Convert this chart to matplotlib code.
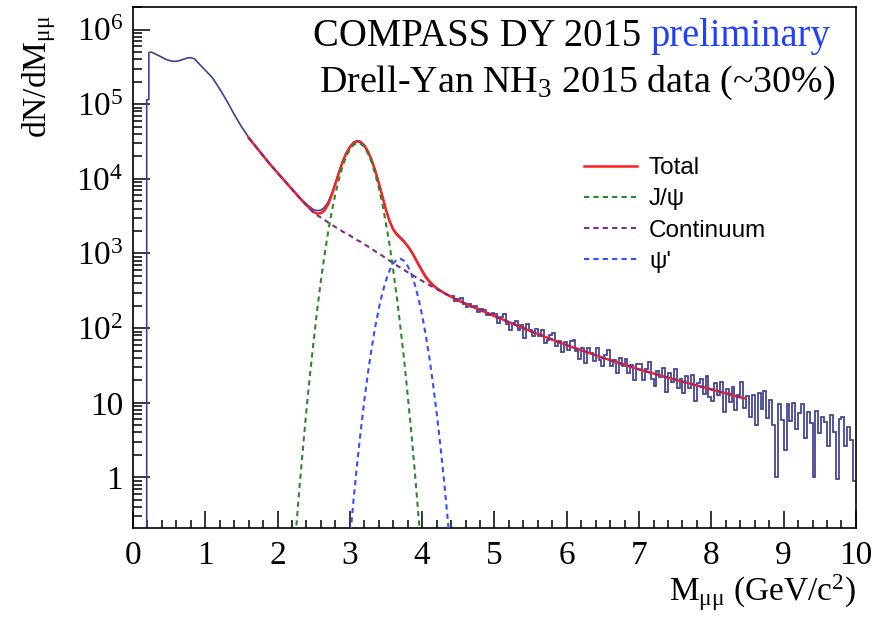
import numpy as np
import matplotlib
matplotlib.use('Agg')
import matplotlib.pyplot as plt
from matplotlib.ticker import FixedLocator, LogLocator, MultipleLocator, NullFormatter

plt.rcParams['font.family'] = 'Liberation Serif'
plt.rcParams['mathtext.fontset'] = 'custom'
plt.rcParams['mathtext.rm'] = 'Liberation Serif'
plt.rcParams['mathtext.it'] = 'Liberation Serif:italic'
plt.rcParams['mathtext.bf'] = 'Liberation Serif:bold'

# data, smooth low-mass part (first bin 0.19-0.22)
low_mass = [0.19, 0.22, 0.22, 0.25, 0.30, 0.35, 0.40, 0.45, 0.50, 0.55, 0.60, 0.65, 0.70,
            0.75, 0.80, 0.85, 0.90, 0.95, 1.00, 1.10, 1.20, 1.30, 1.40, 1.50, 1.60, 1.70,
            1.80, 1.90, 2.00, 2.10, 2.20, 2.30, 2.40, 2.50, 2.55, 2.60, 2.65, 2.70, 2.75,
            2.80, 2.85, 2.90, 2.95, 3.00, 3.05, 3.10, 3.15, 3.20, 3.25, 3.30, 3.35, 3.40,
            3.45, 3.50, 3.55, 3.60, 3.65, 3.70, 3.75, 3.80, 3.85, 3.90, 3.95, 4.00, 4.05,
            4.10, 4.15, 4.20, 4.30, 4.40]
low_counts = [1.15e5, 1.15e5, 4.9e5, 5.0e5, 4.75e5, 4.5e5, 4.25e5, 4.0e5, 3.85e5, 3.75e5,
              3.75e5, 3.85e5, 4.0e5, 4.15e5, 4.2e5, 4.05e5, 3.6e5, 3.2e5, 2.85e5, 2.25e5,
              1.6e5, 1.1e5, 7.3e4, 5.0e4, 3.6e4, 2.7e4, 2.05e4, 1.56e4, 1.21e4, 9.4e3,
              7.3e3, 5.7e3, 4.55e3, 3.85e3, 3.75e3, 3.8e3, 4.15e3, 4.9e3, 6.4e3, 8.8e3,
              1.25e4, 1.73e4, 2.25e4, 2.72e4, 3.08e4, 3.25e4, 3.16e4, 2.83e4, 2.35e4,
              1.82e4, 1.31e4, 8.9e3, 5.9e3, 3.9e3, 2.75e3, 2.15e3, 1.85e3, 1.65e3, 1.47e3,
              1.28e3, 1.09e3, 900, 730, 600, 500, 430, 385, 345, 300, 265]

# data, high-mass tail: bins of 0.04 GeV from 4.40 to 10.00
tail_start = 4.40
bin_width = 0.04
tail_counts = [268, 233, 243, 250, 213, 194, 213, 191, 200, 164, 178, 176, 152, 151, 159,
               156, 116, 139, 155, 112, 94, 117, 125, 93, 109, 74, 112, 93, 79, 98,
               78, 95, 63, 70, 80, 86, 58, 67, 48, 65,
               51, 67, 70, 49, 38, 55, 34, 54, 47, 36, 54, 37, 31, 44, 51,
               31, 37, 25, 40, 31, 39, 25, 32, 20, 33,
               33, 20, 28.5, 35, 21, 17, 27, 22, 29, 14, 25, 19, 28.5, 16, 20.5,
               13.7, 22.6, 16, 23.4, 10.4, 18.6, 20.6, 13.2, 22.8, 11.9,
               10.5, 18.3, 12.9, 19.2, 7.5, 15.3, 10.3, 16.4, 8.1, 12.7, 18.9, 8.6, 12.5, 6.5,
               12.6, 5.1, 13.4, 8.2, 14.4, 6.3, 10.9, 5.1, 1.0, 9.5, 5.8,
               2.3, 9.5, 5.7, 10, 4.4, 7.3, 9.6, 3.4, 7.6, 5.3, 1.0, 7.8, 3.9, 6.5, 5.5,
               2.6, 6.8, 4.1, 0.95, 6.0, 6.5, 2.6, 4.7, 3.2, 0.9]

# fit: total and continuum
fit_mass = [1.60, 1.70, 1.80, 1.90, 2.00, 2.10, 2.20, 2.30, 2.40, 2.50, 2.55, 2.60, 2.65,
            2.70, 2.75, 2.80, 2.85, 2.90, 2.95, 3.00, 3.05, 3.10, 3.15, 3.20, 3.25, 3.30,
            3.35, 3.40, 3.45, 3.50, 3.55, 3.60, 3.65, 3.70, 3.75, 3.80, 3.85, 3.90, 3.95,
            4.00, 4.05, 4.10, 4.15, 4.20, 4.30, 4.40, 4.50, 5.00, 5.50, 6.00, 6.50, 7.00,
            7.50, 8.00, 8.45]
total_fit = [35500, 26900, 20400, 15500, 12000, 9330, 7240, 5620, 4430, 3580, 3420, 3460,
             3780, 4550, 6060, 8570, 12100, 16800, 21800, 26400, 30100, 31700, 30900, 27800,
             23200, 17900, 12900, 8780, 5830, 3800, 2690, 2080, 1780, 1600, 1430, 1250, 1060,
             870, 705, 578, 480, 416, 373, 342, 296, 263, 234, 145, 91, 59, 40, 28, 20.4,
             15.1, 11.5]
continuum_fit = [35500, 26900, 20400, 15500, 12000, 9330, 7240, 5620, 4420, 3510, 3240, 3020,
                 2820, 2600, 2430, 2260, 2110, 1970, 1840, 1740, 1620, 1510, 1430, 1330, 1240,
                 1160, 1070, 1000, 930, 860, 800, 740, 690, 645, 600, 560, 525, 490, 457,
                 430, 400, 376, 355, 335, 295, 263, 234, 145, 91, 59, 40, 28, 20.4, 15.1, 11.5]

# J/psi component, 2.25 - 4.00 GeV in 0.05 steps
jpsi_mass = np.round(np.arange(2.25, 4.001, 0.05), 2)
jpsi_fit = [0.17, 0.68, 2.4, 8.1, 24.5, 69, 182, 436, 955, 1950, 3630, 6310, 10000, 14800,
            20000, 24700, 28500, 30200, 29500, 26500, 21900, 16700, 11700, 7600, 4600, 2500,
            1290, 600, 257, 102, 38, 12.6, 4.0, 1.15, 0.30, 0.072]

# psi' component, 3.00 - 4.40 GeV in 0.05 steps
psip_mass = np.round(np.arange(3.00, 4.401, 0.05), 2)
psip_fit = [0.14, 0.49, 1.5, 4.2, 10.7, 25, 53, 103, 182, 295, 437, 596, 737, 830, 850,
            795, 680, 535, 380, 248, 148, 80, 40, 18, 7.4, 2.8, 0.96, 0.30, 0.087]

ytick_vals = [1, 10, 1e2, 1e3, 1e4, 1e5, 1e6]
ytick_labels = ['1', '10', r'$\mathrm{10^{2}}$', r'$\mathrm{10^{3}}$', r'$\mathrm{10^{4}}$',
                r'$\mathrm{10^{5}}$', r'$\mathrm{10^{6}}$']

data_col = '#3d418f'
y_lo, y_hi = 0.21, 2.0e6

fig = plt.figure(figsize=(8.87, 6.18), dpi=100)
ax = fig.add_axes([0.1499, 0.1456, 0.8151, 0.843])

ax.plot(np.r_[low_mass[0], low_mass], np.r_[1e-3, low_counts], color=data_col, lw=1.2, zorder=2)
tail_edges = tail_start + bin_width * np.arange(len(tail_counts) + 1)
ax.stairs(tail_counts, tail_edges, baseline=None, color=data_col, lw=1.25, zorder=2)

dash = (0, (2.5, 2))
h_tot, = ax.plot(fit_mass, total_fit, color='#ff2020', lw=1.8, zorder=3)
h_cont, = ax.plot(fit_mass, continuum_fit, color='#7b2d86', lw=1.5, ls=dash, zorder=4)
h_jpsi, = ax.plot(jpsi_mass, jpsi_fit, color='#2a8a2a', lw=1.5, ls=dash, zorder=4)
h_psip, = ax.plot(psip_mass, psip_fit, color='#3050ff', lw=1.5, ls=dash, zorder=4)

ax.set_yscale('log')
ax.set_xlim(0, 10)
ax.set_ylim(y_lo, y_hi)

ax.xaxis.set_major_locator(MultipleLocator(1))
ax.xaxis.set_minor_locator(MultipleLocator(0.2))
ax.yaxis.set_major_locator(FixedLocator(ytick_vals))
ax.set_yticklabels(ytick_labels)
ax.yaxis.set_minor_locator(LogLocator(base=10, subs=np.arange(2, 10)))
ax.yaxis.set_minor_formatter(NullFormatter())

ax.tick_params(which='both', direction='in', top=False, right=False, width=1.1, labelsize=24)
ax.tick_params(axis='x', which='major', length=12, pad=9)
ax.tick_params(axis='x', which='minor', length=6)
ax.tick_params(axis='y', which='major', length=12, pad=7)
ax.tick_params(axis='y', which='minor', length=6.5)
for s in ax.spines.values():
    s.set_linewidth(1.2)

ax.set_xlabel(r'M$_{\mathrm{μμ}}$ (GeV/c$^{2}$)', fontsize=24, loc='right')
ax.xaxis.set_label_coords(1.0, -0.085)
ax.set_ylabel(r'dN/dM$_{\mathrm{μμ}}$', fontsize=24, loc='top')
ax.yaxis.set_label_coords(-0.104, 0.985)

# header: "preliminary" anchored at the right, the rest placed one space before it
t_pre = fig.text(830 / 887, 1 - 46 / 618, 'preliminary', color='#2040ff', fontsize=27.8,
                 ha='right', va='baseline')
fig.canvas.draw()
x_pre = t_pre.get_window_extent().x0
fig.text((x_pre - 9) / 887, 1 - 46 / 618, 'COMPASS DY 2015', fontsize=27.8,
         ha='right', va='baseline')
fig.text(836 / 887, 1 - 92 / 618, r'Drell-Yan NH$_{3}$ 2015 data (~30%)', fontsize=27.4,
         ha='right', va='baseline')

ax.legend([h_tot, h_jpsi, h_cont, h_psip], ['Total', 'J/ψ', 'Continuum', "ψ'"],
          prop={'family': 'Liberation Sans', 'size': 17.5}, frameon=False,
          loc='upper left', bbox_to_anchor=(584 / 887, 1 - 157 / 618),
          bbox_transform=fig.transFigure, handlelength=2.17, handletextpad=0.5,
          labelspacing=0.38, borderpad=0, borderaxespad=0)

fig.savefig('out.png', dpi=100)
